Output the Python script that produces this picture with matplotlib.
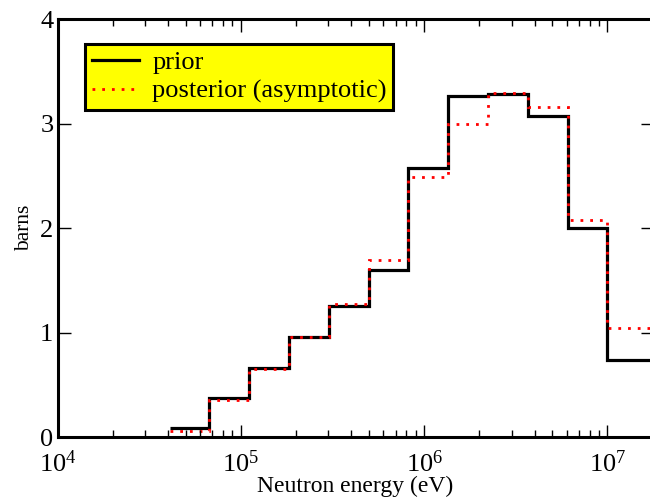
import matplotlib.pyplot as plt
import numpy as np

# bin edges (eV) and cross sections (barns)
edges = [4.09e4, 6.74e4, 1.11e5, 1.83e5, 3.02e5, 4.98e5, 8.21e5,
         1.35e6, 2.23e6, 3.68e6, 6.07e6, 1.0e7, 1.8e7]
prior = [0.09, 0.37, 0.66, 0.96, 1.25, 1.60, 2.57, 3.26, 3.28, 3.07, 2.00, 0.74]
posterior = [0.06, 0.35, 0.65, 0.96, 1.27, 1.69, 2.49, 3.00, 3.29, 3.16, 2.08, 1.04]

plt.rcParams['font.family'] = ['Liberation Serif', 'DejaVu Serif']
plt.rcParams['mathtext.fontset'] = 'custom'
plt.rcParams['mathtext.rm'] = 'Liberation Serif'
plt.rcParams['mathtext.it'] = 'Liberation Serif:italic'

fig = plt.figure(figsize=(6.5, 5.01), dpi=100)
# axes is wider than the canvas: right spine sits just past the edge
ax = fig.add_axes([57.5 / 650, 64 / 501, 595 / 650, 418 / 501])

ax.stairs(prior, edges, color='black', linewidth=2.3, label='prior', baseline=None)
ax.stairs(posterior, edges, color='red', linewidth=2.0, linestyle=(0, (1, 2.5)),
          label='posterior (asymptotic)', baseline=None)

ax.set_xscale('log')
ax.set_xlim(1e4, 1.76e7)
ax.set_ylim(0, 4)
ax.set_yticks([0, 1, 2, 3, 4])

for s in ax.spines.values():
    s.set_linewidth(2.2)

ax.tick_params(which='both', direction='in', top=True, right=True, labelsize=19, width=1)
ax.tick_params(which='major', length=9)
ax.tick_params(which='minor', length=5)
ax.tick_params(axis='x', pad=10)
ax.tick_params(axis='y', pad=3)

ax.set_xlabel('Neutron energy (eV)', fontsize=17, labelpad=-1)
ax.set_ylabel('barns', fontsize=15.5, labelpad=4)

leg = ax.legend(loc='upper left', bbox_to_anchor=(85 / 650, 1 - 44 / 501),
                bbox_transform=fig.transFigure, fontsize=19,
                frameon=True, fancybox=False, framealpha=1, facecolor='#ffff00',
                edgecolor='black', handlelength=1.8, borderpad=0.25,
                labelspacing=0.2, handletextpad=0.5, borderaxespad=0)
leg.get_frame().set_linewidth(2.2)

fig.savefig('out.png', dpi=100)
